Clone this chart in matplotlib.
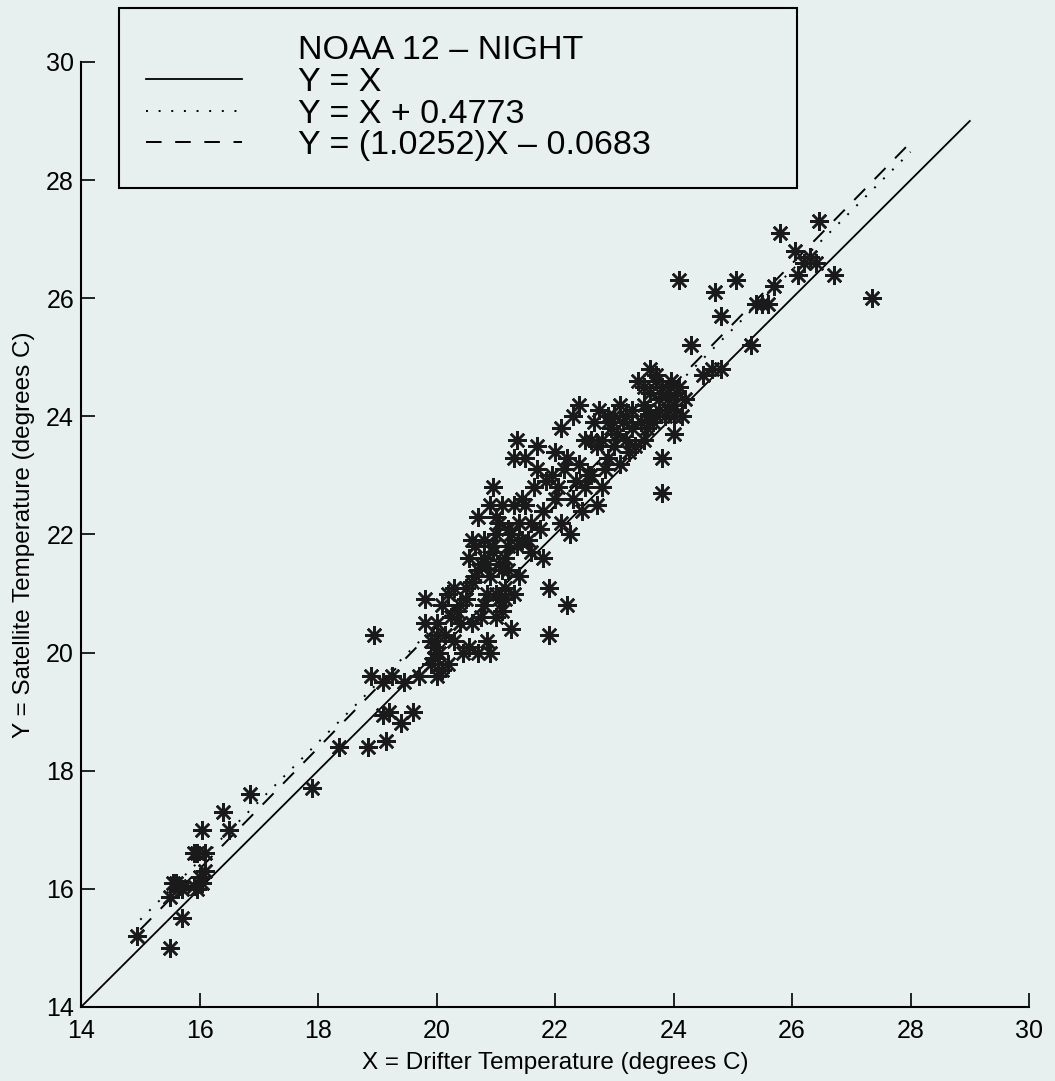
import matplotlib.pyplot as plt
import numpy as np

plt.rcParams['font.family'] = ['Liberation Sans', 'DejaVu Sans']

# drifter (x) vs satellite (y) temperatures
drifter = [14.95, 15.5, 15.7, 15.5, 15.55, 15.6, 15.65, 15.9, 15.95, 16.0, 16.05,
           15.95, 15.9, 16.1, 16.05, 16.4, 16.5, 16.85, 17.9, 18.35,
           18.85, 18.9, 18.95, 19.15, 19.1, 19.2, 19.1, 19.25, 19.4, 19.45, 19.6,
           19.8, 19.8, 19.9, 19.95, 20.0, 20.0, 20.1, 20.05, 20.1, 20.2,
           20.15, 20.3, 20.3, 20.4, 20.45, 20.5, 20.6, 20.55, 20.65, 20.7,
           20.7, 20.75, 20.8, 20.85, 20.9, 20.9, 20.9, 21.0, 21.0, 21.0,
           21.05, 21.1, 21.1, 21.15, 21.2, 21.2, 21.3, 21.3, 21.3, 21.35,
           21.4, 21.4, 21.5, 21.5, 21.6, 21.6, 21.7, 21.7, 21.8, 21.8,
           21.85, 21.9, 21.9, 21.95, 22.0, 22.0, 22.1, 22.1, 22.15, 22.2,
           22.3, 22.3, 22.4, 22.4, 22.5, 22.5, 22.6, 22.7, 22.7, 22.8,
           22.8, 22.9, 22.9, 23.0, 23.0, 23.1, 23.1, 23.2, 23.3, 23.3,
           23.4, 23.5, 23.5, 23.6, 23.6, 23.7, 23.7, 23.75, 23.8, 23.8,
           23.8, 23.9, 23.9, 24.0, 24.0, 24.05, 24.1, 24.1,
           24.3, 24.5, 24.65, 24.7, 24.8, 24.8, 25.05, 25.3, 25.4, 25.5,
           25.6, 25.7, 25.8, 26.05, 26.1, 26.2, 26.3, 26.45, 26.4, 26.7, 27.35,
           20.6, 20.8, 20.95, 21.05, 21.2, 21.25, 20.75, 20.85, 21.0, 21.15,
           20.5, 20.6, 20.8, 21.45, 21.55, 21.65, 22.2, 22.35, 22.55, 22.65,
           22.85, 22.95, 23.15, 23.25, 23.45, 23.55, 23.65, 23.85, 23.95, 24.0,
           20.2, 20.35, 20.0, 19.9, 20.25, 20.95, 21.1, 22.05, 22.45, 22.75,
           23.05, 23.35, 23.6, 23.7, 23.9, 24.15, 20.7, 21.35, 21.75, 22.25,
           20.55, 20.65, 20.85, 21.05, 21.25, 20.95, 21.15, 21.45, 22.6, 22.9,
           23.2, 23.5, 23.75, 23.55, 15.7, 16.1, 19.7, 19.95, 20.4, 24.2]
satellite = [15.2, 15.0, 15.5, 15.87, 16.1, 16.1, 16.05, 16.05, 16.0, 16.2, 16.1,
             16.6, 16.6, 16.6, 17.0, 17.3, 17.0, 17.6, 17.7, 18.4,
             18.4, 19.6, 20.3, 18.5, 18.95, 19.0, 19.5, 19.6, 18.8, 19.5, 19.0,
             20.9, 20.5, 19.8, 20.1, 19.6, 20.5, 19.7, 20.0, 20.8, 21.0,
             20.3, 20.2, 21.1, 20.5, 20.0, 20.9, 20.5, 20.1, 21.8, 20.0,
             22.3, 21.5, 20.8, 20.2, 20.0, 21.3, 22.5, 21.0, 20.6, 22.0,
             21.5, 20.7, 22.5, 21.1, 21.8, 22.1, 21.0, 22.5, 23.3, 23.6,
             21.3, 22.2, 22.5, 23.3, 21.7, 22.2, 23.1, 23.5, 21.6, 22.4,
             22.9, 21.1, 20.3, 23.0, 23.4, 22.6, 22.2, 23.8, 23.1, 20.8,
             22.6, 24.0, 23.2, 24.2, 22.8, 23.6, 23.0, 22.5, 23.5, 22.8,
             23.6, 24.0, 23.3, 23.5, 24.0, 23.2, 24.2, 23.6, 24.1, 23.8,
             24.6, 23.6, 24.2, 24.4, 24.8, 24.0, 24.6, 24.3, 22.7, 23.3,
             24.5, 24.1, 24.3, 24.0, 24.2, 24.4, 26.3, 24.5,
             25.2, 24.7, 24.8, 26.1, 25.7, 24.8, 26.3, 25.2, 25.9, 25.9,
             25.9, 26.2, 27.1, 26.8, 26.4, 26.6, 26.7, 27.3, 26.6, 26.4, 26.0,
             21.2, 21.9, 21.7, 20.9, 21.4, 20.4, 20.6, 21.0, 22.3, 21.6,
             21.1, 21.9, 21.6, 22.6, 21.9, 22.8, 23.3, 22.9, 23.0, 23.9,
             23.1, 23.8, 23.9, 23.4, 23.9, 24.1, 23.9, 24.0, 24.6, 23.7,
             19.8, 20.7, 20.3, 20.2, 20.6, 21.8, 21.4, 22.8, 22.4, 24.1,
             23.7, 23.5, 24.0, 24.7, 24.4, 24.0, 21.4, 21.8, 22.1, 22.0,
             21.6, 21.3, 21.5, 22.2, 22.0, 22.8, 20.9, 21.9, 23.6, 23.9,
             24.0, 24.5, 24.1, 23.8, 16.0, 16.3, 19.6, 19.9, 20.8, 24.3]

slope_fit = 1.0252
icpt_fit = -0.0683
offset_fit = 0.4773

bg = '#e7efef'
fig = plt.figure(figsize=(10.55, 10.81), dpi=100, facecolor=bg)
ax = fig.add_axes([0.0768, 0.0685, 0.8986, 0.8742], facecolor=bg)

xs = np.array([15, 28])
ax.plot([14, 29], [14, 29], color='k', lw=1.3, label='Y = X')
ax.plot(xs, xs + offset_fit, color='k', lw=1.4, ls=(0, (1, 5.5)), label='Y = X + 0.4773')
ax.plot(xs, slope_fit * xs + icpt_fit, color='k', lw=1.4, ls=(0, (8, 7)),
        label='Y = (1.0252)X \u2013 0.0683')
ax.plot(drifter, satellite, ls='none', marker=(8, 2, 0), ms=13.5, mew=1.8,
        color='#1a1a1a')

ax.set_xlim(14, 30)
ax.set_ylim(14, 30)
ax.set_xticks(range(14, 31, 2))
ax.set_yticks(range(14, 31, 2))
ax.tick_params(direction='in', length=10, width=1.2, labelsize=18)
ax.tick_params(axis='x', pad=9)
ax.tick_params(axis='y', pad=5)
for s in ['top', 'right']:
    ax.spines[s].set_visible(False)
for s in ['left', 'bottom']:
    ax.spines[s].set_linewidth(1.5)
ax.set_xlabel('X = Drifter Temperature (degrees C)', fontsize=17.5, labelpad=6)
ax.set_ylabel('Y = Satellite Temperature (degrees C)', fontsize=17.5, labelpad=8)

h, l = ax.get_legend_handles_labels()
blank = plt.Line2D([], [], ls='none')
leg = fig.legend([blank] + h, ['NOAA 12 \u2013 NIGHT'] + l, loc='upper left',
                 bbox_to_anchor=(0.1128, 0.8196, 0.6427, 0.173), mode='expand',
                 borderaxespad=0, fontsize=24.5, handlelength=2.8,
                 handletextpad=1.65, labelspacing=0.02, borderpad=0.8,
                 fancybox=False, edgecolor='k', facecolor=bg, framealpha=1)
leg.get_frame().set_linewidth(1.5)

fig.savefig('out.png', dpi=100, facecolor=bg)
